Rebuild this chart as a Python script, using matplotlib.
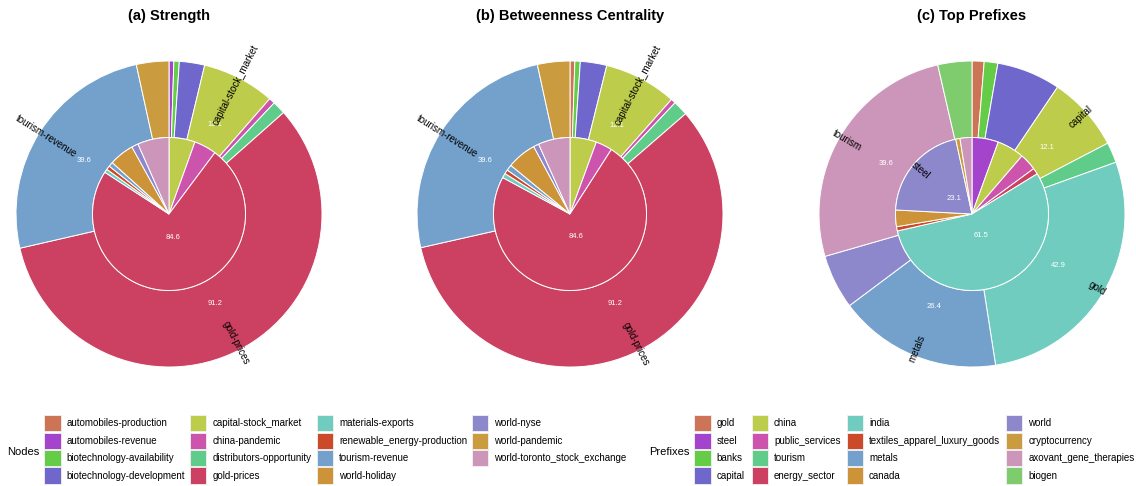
import matplotlib
matplotlib.use("Agg")
import matplotlib.pyplot as plt
import numpy as np
from matplotlib.patches import Rectangle

plt.rcParams['font.family'] = ['Liberation Sans', 'DejaVu Sans']

# ---------------- data ----------------
node_names = ["automobiles-production", "automobiles-revenue", "biotechnology-availability",
              "biotechnology-development", "capital-stock_market", "china-pandemic",
              "distributors-opportunity", "gold-prices", "materials-exports",
              "renewable_energy-production", "tourism-revenue", "world-holiday",
              "world-nyse", "world-pandemic", "world-toronto_stock_exchange"]
node_colors = ["#CD7456", "#A443CC", "#64CC46", "#6F67CC", "#BDCC4A", "#CC54AD",
               "#5FCC89", "#CC4062", "#71CCC0", "#CC4A2A", "#73A1CC", "#CC9339",
               "#8D87CC", "#CA9C3F", "#CC96BA"]

prefix_names = ["gold", "steel", "banks", "capital", "china", "public_services", "tourism",
                "energy_sector", "india", "textiles_apparel_luxury_goods", "metals", "canada",
                "world", "cryptocurrency", "axovant_gene_therapies", "biogen"]
prefix_colors = ["#CD7456", "#A443CC", "#64CC46", "#6F67CC", "#BDCC4A", "#CC54AD",
                 "#5FCC89", "#CC4062", "#71CCC0", "#CC4A2A", "#73A1CC", "#CC9339",
                 "#8D87CC", "#CA9C3F", "#CC96BA", "#7FCC6F"]

# (a) Strength
a_inner_items = ["capital-stock_market", "china-pandemic", "gold-prices", "materials-exports",
                 "renewable_energy-production", "tourism-revenue", "world-holiday",
                 "world-nyse", "world-toronto_stock_exchange"]
a_inner_values = [6.3, 5.4, 84.6, 0.86, 0.95, 1.1, 6.0, 1.6, 7.6]
a_inner_labels = ["", "", "", "", "", "", "", "", ""]
a_outer_items = ["automobiles-revenue", "biotechnology-availability", "biotechnology-development",
                 "capital-stock_market", "china-pandemic", "distributors-opportunity",
                 "gold-prices", "tourism-revenue", "world-pandemic"]
a_outer_values = [0.8, 0.9, 4.2, 12.1, 1.0, 2.2, 91.2, 39.6, 5.4]
a_outer_labels = ["", "", "", "capital-stock_market", "", "", "gold-prices", "tourism-revenue", ""]

# (b) Betweenness Centrality
b_inner_items = a_inner_items
b_inner_values = [6.4, 4.0, 84.6, 1.1, 1.0, 1.4, 7.1, 1.3, 7.7]
b_inner_labels = ["", "", "", "", "", "", "", "", ""]
b_outer_items = ["automobiles-production", "biotechnology-availability", "biotechnology-development",
                 "capital-stock_market", "china-pandemic", "distributors-opportunity",
                 "gold-prices", "tourism-revenue", "world-pandemic"]
b_outer_values = [0.8, 0.9, 4.4, 12.1, 0.8, 2.5, 91.2, 39.6, 5.4]
b_outer_labels = ["", "", "", "capital-stock_market", "", "", "gold-prices", "tourism-revenue", ""]

# (c) Top Prefixes
c_inner_items = ["steel", "china", "public_services", "energy_sector", "india",
                 "textiles_apparel_luxury_goods", "canada", "world", "cryptocurrency",
                 "axovant_gene_therapies"]
c_inner_values = [6.2, 6.4, 4.0, 1.45, 61.5, 1.0, 3.9, 23.1, 1.0, 2.8]
c_inner_labels = ["", "", "", "", "", "", "", "steel", "", ""]
c_outer_items = ["gold", "banks", "capital", "china", "tourism", "india", "metals", "world",
                 "axovant_gene_therapies", "biogen"]
c_outer_values = [1.95, 2.2, 10.3, 12.1, 3.3, 42.9, 26.4, 8.8, 39.6, 5.5]
c_outer_labels = ["", "", "", "capital", "", "gold", "metals", "", "tourism", ""]

titles = ["(a) Strength", "(b) Betweenness Centrality", "(c) Top Prefixes"]

# ---------------- figure ----------------
W, H = 1136, 486
fig = plt.figure(figsize=(W / 100, H / 100), dpi=100)
fig.patch.set_facecolor("white")

centers = [(169, 214), (570, 214), (972, 214)]
R = 153
VALUE_MIN = 11


def draw_ring(ax, values, items, names, colors, labels, radius, width, val_r, name_r):
    cmap = dict(zip(names, colors))
    wedges, _ = ax.pie(values, colors=[cmap[i] for i in items], radius=radius,
                       startangle=90, counterclock=False,
                       wedgeprops=dict(width=width, edgecolor="white", linewidth=0.7))
    for w, v, lab in zip(wedges, values, labels):
        mid = np.deg2rad((w.theta1 + w.theta2) / 2.0)
        if v >= VALUE_MIN:
            ax.text(val_r * np.cos(mid), val_r * np.sin(mid), f"{v:.1f}", color="white",
                    fontsize=5.5, ha="center", va="center")
        if lab:
            deg = (np.rad2deg(mid) + 180) % 360 - 180
            rot = deg
            if deg > 90:
                rot = deg - 180
            elif deg < -90:
                rot = deg + 180
            ax.text(name_r * np.cos(mid), name_r * np.sin(mid), lab, color="black",
                    fontsize=7, ha="center", va="center", rotation=rot,
                    rotation_mode="anchor", clip_on=False)


panels = [
    (a_inner_values, a_inner_items, a_inner_labels, a_outer_values, a_outer_items, a_outer_labels,
     node_names, node_colors),
    (b_inner_values, b_inner_items, b_inner_labels, b_outer_values, b_outer_items, b_outer_labels,
     node_names, node_colors),
    (c_inner_values, c_inner_items, c_inner_labels, c_outer_values, c_outer_items, c_outer_labels,
     prefix_names, prefix_colors),
]

for (cx, cy), title, p in zip(centers, titles, panels):
    iv, ii, il, ov, oi, ol, names, colors = p
    ax = fig.add_axes([(cx - R) / W, (H - cy - R) / H, 2 * R / W, 2 * R / H])
    draw_ring(ax, ov, oi, names, colors, ol, 1.0, 0.5, 0.655, 0.95)
    draw_ring(ax, iv, ii, names, colors, il, 0.5, 0.5, 0.155, 0.445)
    ax.set_xlim(-1, 1)
    ax.set_ylim(-1, 1)
    ax.set_aspect("equal")
    ax.axis("off")
    fig.text(cx / W, 1 - 16 / H, title, ha="center", va="center", fontsize=10.5,
             fontweight="bold")

# ---------------- legends ----------------
lax = fig.add_axes([0, 0, 1, 1])
lax.set_xlim(0, W)
lax.set_ylim(H, 0)
lax.axis("off")


def draw_legend(title, title_x, names, colors, col_x, nrow=4):
    row_top = [415.0, 432.5, 450.0, 467.4]
    key = 16.2
    lax.text(title_x, 451.5, title, ha="left", va="center", fontsize=8)
    for k, (n, c) in enumerate(zip(names, colors)):
        col, row = divmod(k, nrow)
        x0 = col_x[col]
        y0 = row_top[row]
        lax.add_patch(Rectangle((x0, y0), key, key, facecolor=c,
                                edgecolor="#f2f2f2", linewidth=0.6))
        lax.text(x0 + 22.3, y0 + key / 2, n, ha="left", va="center", fontsize=7)


draw_legend("Nodes", 6.7, node_names, node_colors, [44.3, 190.0, 316.7, 472.0])
draw_legend("Prefixes", 649.3, prefix_names, prefix_colors, [694.3, 751.7, 846.7, 1006.0])

fig.savefig("out.png", dpi=100, facecolor="white")
